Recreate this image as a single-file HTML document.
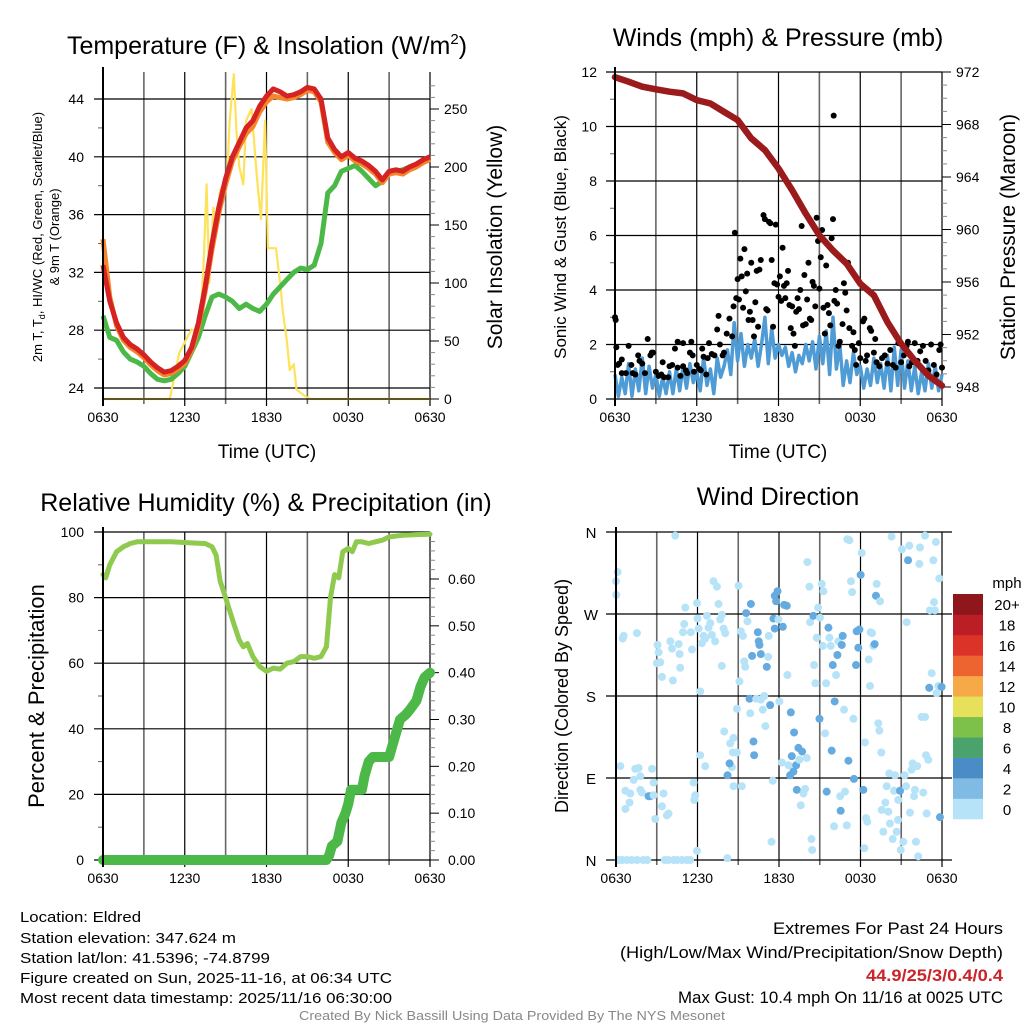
<!DOCTYPE html>
<html><head><meta charset="utf-8"><style>
html,body{margin:0;padding:0;background:#fff}
svg{display:block;font-family:"Liberation Sans",Arial,sans-serif}
</style></head><body>
<svg id="fig" width="1024" height="1024" viewBox="0 0 1024 1024" xmlns="http://www.w3.org/2000/svg">
<rect width="1024" height="1024" fill="#fff"/>
<g id="p1"></g>
<g id="p2"></g>
<g id="p3"></g>
<g id="p4"></g>
<text x="267" y="54" text-anchor="middle" font-size="25">Temperature (F) &amp; Insolation (W/m<tspan dy="-10" font-size="15">2</tspan><tspan dy="10">)</tspan></text>
<text x="778" y="46" text-anchor="middle" font-size="25">Winds (mph) &amp; Pressure (mb)</text>
<text x="266" y="511" text-anchor="middle" font-size="25">Relative Humidity (%) &amp; Precipitation (in)</text>
<text x="778" y="505" text-anchor="middle" font-size="25">Wind Direction</text>
<g font-size="15">
<text x="20" y="922" textLength="121" lengthAdjust="spacingAndGlyphs">Location: Eldred</text>
<text x="20" y="943" textLength="216" lengthAdjust="spacingAndGlyphs">Station elevation: 347.624 m</text>
<text x="20" y="963" textLength="250" lengthAdjust="spacingAndGlyphs">Station lat/lon: 41.5396; -74.8799</text>
<text x="20" y="983" textLength="372" lengthAdjust="spacingAndGlyphs">Figure created on Sun, 2025-11-16, at 06:34 UTC</text>
<text x="20" y="1003" textLength="372" lengthAdjust="spacingAndGlyphs">Most recent data timestamp: 2025/11/16 06:30:00</text>
</g>
<g font-size="17" text-anchor="end">
<text x="1003" y="934" textLength="230" lengthAdjust="spacingAndGlyphs">Extremes For Past 24 Hours</text>
<text x="1003" y="958" textLength="383" lengthAdjust="spacingAndGlyphs">(High/Low/Max Wind/Precipitation/Snow Depth)</text>
<text x="1003" y="981" fill="#c9252b" font-weight="bold" textLength="137" lengthAdjust="spacingAndGlyphs">44.9/25/3/0.4/0.4</text>
<text x="1003" y="1003" textLength="325" lengthAdjust="spacingAndGlyphs">Max Gust: 10.4 mph On 11/16 at 0025 UTC</text>
</g>
<text x="512" y="1020" text-anchor="middle" font-size="13" fill="#888" textLength="426" lengthAdjust="spacingAndGlyphs">Created By Nick Bassill Using Data Provided By The NYS Mesonet</text>
</svg>
<script>
// ---------- DATA ----------
const timeLabels = ["0630","1230","1830","0030","0630"];
const tempTicks = [24,28,32,36,40,44];
const solarTicks = [0,50,100,150,200,250];
const windTicks = [0,2,4,6,8,10,12];
const presTicks = [948,952,956,960,964,968,972];
const rhTicks = [0,20,40,60,80,100];
const precipTicks = [0,0.1,0.2,0.3,0.4,0.5,0.6];
const precipTickLabels = ["0.00","0.10","0.20","0.30","0.40","0.50","0.60"];
const dirTicks = [0,90,180,270,360];
const dirLabels = ["N","E","S","W","N"];
const cbarLabels = ["0","2","4","6","8","10","12","14","16","18","20+"];
const cbarColors = ["#b6e3f8","#7fbbe5","#4a8cc5","#4aa36c","#7dc14b","#e6e05a","#f6a947","#ee6430","#dc3328","#bb1e25","#8f171b"];

// half-hourly temperature series (hours 0..24 from 0630 UTC)
const tempRed = [32.5,30,28.5,27.5,27,26.7,26.3,25.8,25.4,25.1,25.2,25.5,25.9,26.8,28.5,31,34,36.5,38.5,40,41,42,42.5,43.5,44.2,44.7,44.5,44.2,44.3,44.5,44.8,44.7,44,41.3,40.5,40,40.3,39.9,39.7,39.4,39,38.4,39,39.1,39,39.3,39.5,39.8,40];
const tempOrange = [34.3,30.3,28.3,27.3,26.8,26.5,26.1,25.6,25.2,24.9,25.0,25.3,25.7,26.6,28.2,30.7,33.6,36.1,38.1,39.7,40.7,41.6,42.1,43.1,43.8,44.2,44.1,44,44.1,44.3,44.6,44.5,43.8,41,40.3,39.8,40.1,39.7,39.5,39.2,38.8,38.2,38.8,38.9,38.8,39.1,39.3,39.6,39.8];
const tempGreen = [29,27.5,27.3,26.5,26,25.8,25.5,25,24.6,24.5,24.6,25,25.5,26.5,27.5,29,30.3,30.5,30.3,30,29.5,29.8,29.5,29.3,29.8,30.5,31,31.5,32,32.3,32.2,32.5,34,37.5,38,39,39.2,39.4,39,38.5,38,38.3,38.8,39,39.1,39.3,39.5,39.7,39.8];
const solarTime = [0,4.9,5.6,6.5,7.1,7.4,7.6,7.8,8.1,8.3,8.6,9.1,9.3,9.6,9.8,10,10.3,10.5,10.9,11.3,11.6,11.9,12.1,12.7,13,13.2,13.5,13.7,14,14.2,14.9,15.2,24];
const solarVal = [0,0,40,60,55,120,185,100,165,150,180,190,240,280,230,200,185,240,250,190,155,240,130,130,100,75,50,25,30,8,2,0,0];

// pressure (mb), hourly
const presVal = [971.6,971.26,970.88,970.68,970.5,970.37,969.86,969.6,968.97,968.34,966.94,966.05,964.65,963.0,961.2,959.56,958.4,957.4,955.87,954.98,952.94,951.3,950.0,948.87,948.1];
// sonic wind (mph), every 15 min
const sonicVal = [0.9,0.1,0.8,0.2,1.3,0.1,1.1,0.3,1.5,0.2,1.2,0.4,0.9,0.1,0.8,0.2,1.0,0.2,1.1,0.3,1.2,0.4,1.3,0.6,1.0,0.3,1.5,0.5,1.1,0.2,1.5,0.8,1.2,1.8,0.9,2.8,1.4,2.4,1.2,2.0,1.5,2.2,1.2,2.0,3.0,1.3,2.6,1.5,2.0,1.6,1.9,1.2,1.7,1.0,1.6,1.3,2.0,1.4,2.1,1.1,2.3,1.3,2.5,0.9,3.0,1.1,2.0,0.5,1.4,0.6,1.7,0.9,1.2,0.4,1.1,0.5,1.5,0.6,1.3,0.4,1.6,0.3,1.9,0.5,1.8,0.4,1.4,0.3,1.2,0.2,1.0,0.3,1.3,0.4,1.2,0.3,0.9];
// gusts
const gustTime = [0,0.05,0.1,0.2,0.3,0.5,0.5,0.8,1.0,1.2,1.3,1.5,1.7,1.8,2.0,2.2,2.4,2.6,2.7,2.8,3.0,3.2,3.4,3.5,3.6,3.9,4.0,4.2,4.4,4.6,4.6,4.8,5.0,5.0,5.2,5.3,5.5,5.6,5.7,5.8,6.0,6.2,6.3,6.4,6.5,6.7,6.8,6.9,7.1,7.3,7.5,7.6,7.7,7.9,8.0,8.2,8.4,8.6,8.7,8.8,8.9,9.0,9.1,9.2,9.3,9.4,9.5,9.6,9.7,9.8,9.9,10.0,10.1,10.2,10.3,10.4,10.5,10.6,10.7,10.9,11.0,11.1,11.2,11.3,11.4,11.5,11.6,11.7,11.8,11.9,12.0,12.1,12.2,12.3,12.4,12.5,12.6,12.7,12.8,12.9,13.0,13.1,13.2,13.3,13.4,13.5,13.6,13.7,13.8,13.9,14.0,14.1,14.2,14.3,14.4,14.5,14.6,14.7,14.8,14.9,15.0,15.1,15.2,15.3,15.4,15.5,15.6,15.7,15.8,15.9,16.0,16.05,16.1,16.2,16.3,16.4,16.5,16.7,16.8,16.9,17.0,17.1,17.2,17.4,17.5,17.6,17.7,17.9,18.0,18.2,18.3,18.4,18.5,18.7,18.8,19.0,19.1,19.2,19.4,19.6,19.8,20.0,20.2,20.4,20.6,20.8,21.0,21.2,21.4,21.5,21.6,21.8,22.0,22.2,22.4,22.6,22.8,23.0,23.2,23.4,23.6,23.8,23.9,24.0];
const gustVal = [3.0,2.9,1.9,1.25,1.3,1.45,0.95,0.95,1.95,1.25,0.95,0.9,1.6,1.4,1.3,0.95,2.2,1.6,1.7,1.7,1.0,0.85,0.9,1.35,0.8,0.8,1.2,1.25,1.85,1.15,2.1,0.85,2.05,1.2,1.05,0.95,1.7,2.1,1.6,1.0,1.25,1.1,1.05,1.85,1.55,0.9,1.5,2.05,1.65,1.6,2.55,3.05,2.0,1.6,1.7,2.4,2.95,2.3,3.4,6.1,3.7,4.4,3.65,5.15,4.5,3.35,5.5,3.95,4.6,2.9,3.2,5.0,2.9,2.3,3.55,4.7,2.65,4.75,5.1,6.75,6.6,3.3,3.25,6.5,6.45,5.1,2.65,4.25,6.4,4.2,3.75,4.5,3.6,5.55,4.15,3.7,4.25,4.7,3.45,2.6,3.4,2.4,1.95,3.2,3.7,3.3,4.0,6.35,2.7,4.55,2.75,3.65,5.0,2.95,2.9,4.3,4.15,3.4,6.65,5.8,4.05,5.2,6.2,3.35,2.4,4.9,3.45,3.15,2.7,5.9,6.6,10.4,3.6,4.0,3.5,1.95,2.1,2.75,4.25,3.9,3.25,5.0,2.6,1.95,2.45,1.8,1.25,2.05,1.5,2.85,2.95,1.4,1.6,2.6,2.5,1.7,2.2,1.35,1.2,1.5,1.6,1.3,1.8,1.25,1.15,2.05,1.35,1.6,1.95,2.1,1.2,1.35,2.05,1.4,1.75,1.95,1.4,1.05,2.0,1.25,0.9,1.8,2.0,1.15];

// relative humidity
const rhTime = [0,0.2,0.5,1,1.5,2,2.5,3,4,5,6,7,7.5,8,8.3,8.6,9,9.3,9.6,10,10.3,10.6,11,11.5,12,12.5,13,13.5,14,14.5,15,15.5,16,16.4,16.7,17,17.3,17.6,18,18.3,18.6,19,19.5,20,20.5,21,22,23,24];
const rhVal = [87,86,90,94,95.5,96.5,97,97,97,97,96.8,96.6,96.5,95.5,93,85,80,76,72,67,65,66,62,59,57.5,58.5,58.2,60,60.5,62,62,61.5,62,65,80,87,86,94,95,94,97,97,96.5,97,97.5,98.5,99,99.2,99.3];
const precipTime = [0,16.4,16.6,16.8,17.2,17.5,17.8,18.0,18.2,19.0,19.2,19.5,19.8,21.0,21.2,21.5,21.8,22.2,22.5,23.0,23.3,23.6,24];
const precipVal = [0,0,0.01,0.03,0.04,0.08,0.1,0.12,0.15,0.15,0.18,0.21,0.22,0.22,0.24,0.27,0.3,0.31,0.32,0.34,0.37,0.39,0.40];

// wind direction scatter
const wdTime = [0.2,0.45,0.8,1.15,1.55,2.0,2.3,3.6,3.85,4.25,4.5,4.85,5.2,5.45,8.2,
0,0.12,0.02,0.49,0.56,1.54,0.32,0.69,1.05,1.42,1.67,1.3,1.79,1.91,2.4,2.52,2.77,2.65,2.77,2.89,3.5,3.38,3.75,3.87,0.69,1.0,1.79,
3.06,3.14,3.01,3.26,3.38,4.0,4.12,4.19,4.36,4.61,4.68,4.73,4.93,5.02,5.1,5.59,5.51,5.96,6.0,6.08,6.2,6.32,6.45,6.57,6.69,6.81,6.94,7.06,7.18,7.3,7.43,7.55,7.67,7.79,7.92,7.79,8.04,
5.71,5.83,5.76,6.2,6.57,5.96,
7.97,8.41,8.65,8.6,8.9,8.9,8.53,8.36,8.21,8.65,9.26,
9.02,9.09,9.19,9.34,9.44,9.51,9.58,9.68,9.83,9.88,9.93,10.02,10.12,10.17,10.32,10.44,10.51,10.56,10.66,10.66,10.81,10.91,11.0,11.1,11.2,11.25,11.35,11.45,11.54,11.59,11.69,11.69,11.79,11.89,11.96,12.03,12.21,12.28,12.38,12.57,12.62,12.7,12.82,12.87,12.94,13.06,13.11,13.26,13.31,13.43,13.5,13.6,13.7,13.8,13.92,14.04,14.09,14.24,14.29,14.39,14.44,14.53,14.58,14.68,14.78,14.88,14.98,15.02,15.15,15.22,15.27,15.39,15.47,15.51,15.64,15.71,15.81,15.88,15.96,16.05,16.1,16.2,16.3,16.37,16.5,16.54,16.62,16.69,16.79,16.86,16.99,17.03,17.18,17.11,17.3,17.38,17.48,17.52,17.67,17.72,17.84,17.92,18.01,18.09,18.21,18.28,18.33,18.41,18.5,18.6,18.7,18.75,18.85,18.95,19.04,19.14,19.19,19.31,19.39,19.44,19.53,19.56,19.68,19.83,19.93,20.05,20.12,20.17,20.29,20.37,20.47,20.54,20.66,20.76,20.78,20.91,20.96,21.05,21.15,21.25,21.35,21.4,21.5,21.59,21.64,21.76,21.84,21.94,22.01,22.08,22.18,22.25,22.33,22.38,22.5,22.62,22.75,22.82,22.87,22.99,23.11,23.24,22.75,23.36,23.41,23.48,23.55,23.6,23.73,23.8,23.85,23.97,23.06];
const wdDir = [0,0,0,0,0,0,0,0,0,0,0,0,0,0,2,
306,316,291,243,246,249,103,76,73,100,101,88,77,74,70,70,71,100,85,45,73,59,49,51,56,63,92,
236,228,216,217,201,240,232,197,356,237,226,211,250,259,277,231,250,282,265,254,185,238,246,243,268,255,260,247,306,240,300,281,264,269,254,213,249,
85,71,66,115,103,10,
141,128,134,118,118,166,102,106,93,81,81,
301,196,251,246,218,212,271,262,177,161,281,224,130,115,177,250,240,236,226,176,165,180,147,212,223,246,170,20,87,265,290,254,284,295,264,174,107,256,280,279,203,104,93,162,114,97,140,104,77,123,110,60,119,73,78,112,327,300,261,23,11,268,214,194,244,277,155,266,303,235,295,139,194,75,255,244,235,120,214,37,174,203,225,240,70,54,236,246,165,75,38,352,351,109,306,294,155,89,214,251,233,253,313,337,77,13,129,46,42,220,191,250,249,235,237,290,303,150,142,284,118,55,31,63,81,53,95,40,355,23,76,93,31,44,66,76,11,341,20,93,81,261,329,345,52,99,106,70,77,20,103,4,325,343,157,74,157,115,51,110,274,205,356,329,283,274,349,183,191,309,47,190,189];
const wdSpd = [1,1,1,1,1,1,1,1,1,1,1,1,1,1,1,
1,1,1,1,1,1,1,1,1,1,1,1,1,1,3,3,1,1,1,1,1,1,1,1,1,1,1,
1,1,1,1,1,1,1,1,1,1,1,1,1,1,1,1,1,1,1,1,1,1,1,1,1,1,1,1,1,1,1,1,1,1,1,1,1,
1,1,1,1,1,1,
1,1,1,1,1,1,1,3,3,1,1,
1,1,1,1,1,1,3,1,3,1,3,3,3,3,1,3,3,3,3,1,1,1,1,3,1,1,3,1,1,3,3,3,3,3,1,1,1,3,3,3,1,1,3,3,3,3,3,3,3,3,1,1,3,1,1,1,1,1,1,1,1,3,1,1,1,1,3,1,1,1,1,1,1,3,3,1,1,3,3,1,3,1,3,1,1,3,3,3,1,1,1,1,1,3,1,1,1,3,3,3,3,3,3,1,3,1,1,1,1,1,1,1,1,1,3,3,1,1,1,1,1,1,1,1,1,1,1,1,1,1,1,1,1,1,1,3,1,1,1,1,1,1,3,1,1,1,1,1,1,1,1,1,1,1,1,1,1,1,1,1,1,1,1,1,1,1,1,1,1,1];

// ---------- DRAWING ----------
const NS = "http://www.w3.org/2000/svg";
function mk(parent, tag, attrs){ const e=document.createElementNS(NS,tag); for(const k in attrs) e.setAttribute(k,attrs[k]); parent.appendChild(e); return e; }
function lin(d0,d1,r0,r1){ return v => r0 + (v-d0)*(r1-r0)/(d1-d0); }
function pathOf(xs,ys,fx,fy){ let d=""; for(let i=0;i<xs.length;i++){ d+=(i?"L":"M")+fx(xs[i]).toFixed(1)+","+fy(ys[i]).toFixed(1); } return d; }

function frame(g, x0, x1, y0, y1, fx){
  for(let h=0; h<=24; h+=3){
    const x=fx(h), major=(h%6===0);
    const l=mk(g,"line",{x1:x,y1:y0,x2:x,y2:y1+(major?7:5),stroke:major?"#000":"#666","stroke-width":major?1.2:1.6});
    
    
  }
  timeLabels.forEach((s,i)=>{
    const t=mk(g,"text",{x:fx(i*6),y:y1+23,"text-anchor":"middle","font-size":"14"}); t.textContent=s;
    
    
  });
}

// Panel 1
(function(){
  const g=document.getElementById("p1");
  const x0=103,x1=430,y0=72,y1=399;
  const fx=lin(0,24,x0,x1), fy=lin(24,44,388,99), fs=lin(0,250,399,109);
  frame(g,x0,x1,y0,y1,fx);
  for(let v=24; v<=46; v+=2){ const y=fy(v); if(y<y0) continue; const maj=tempTicks.includes(v);
    if(maj){ const l=mk(g,"line",{x1:x0-9,y1:y,x2:x1,y2:y,stroke:"#000","stroke-width":1.2});
        }
    else { const l=mk(g,"line",{x1:x0-5,y1:y,x2:x0,y2:y,stroke:"#666","stroke-width":1});
        } }
  tempTicks.forEach(v=>{ const t=mk(g,"text",{x:84,y:fy(v)+5,"text-anchor":"end","font-size":"14"}); t.textContent=v;
      });
  for(let v=0; v<=270; v+=10){ const y=fs(v); if(y<y0) continue; const maj=solarTicks.includes(v);
    const l=mk(g,"line",{x1:x1,y1:y,x2:x1+(maj?9:5),y2:y,stroke:maj?"#000":"#888","stroke-width":1});
      }
  solarTicks.forEach(v=>{ const t=mk(g,"text",{x:444,y:fs(v)+5,"font-size":"14"}); t.textContent=v;
      });
  const hh=tempRed.map((_,i)=>i*0.5);
  const ys=mk(g,"path",{d:pathOf(solarTime,solarVal,fx,fs),fill:"none",stroke:"#fde25a","stroke-width":2.2,"stroke-linejoin":"round"});
   
  const gr=mk(g,"path",{d:pathOf(hh,tempGreen,fx,fy),fill:"none",stroke:"#4cb848","stroke-width":5,"stroke-linejoin":"round"});
   
  const or=mk(g,"path",{d:pathOf(hh,tempOrange,fx,fy),fill:"none",stroke:"#f5842b","stroke-width":5,"stroke-linejoin":"round"});
   
  const rd=mk(g,"path",{d:pathOf(hh,tempRed,fx,fy),fill:"none",stroke:"#d52222","stroke-width":5,"stroke-linejoin":"round"});
   
  const ax=mk(g,"line",{x1:x0,y1:y0-5,x2:x0,y2:y1+7,stroke:"#000","stroke-width":2});
   
  const ax2=mk(g,"line",{x1:x0,y1:y1,x2:x1,y2:y1,stroke:"#000","stroke-width":1.2});
   
  const t1=mk(g,"text",{x:0,y:0,"text-anchor":"middle","font-size":"13",transform:"translate(42,237) rotate(-90)"}); t1.innerHTML='2m T, T<tspan dy="3" font-size="9">d</tspan><tspan dy="-3">, HI/WC (Red, Green, Scarlet/Blue)</tspan>';
   
  const t2=mk(g,"text",{x:0,y:0,"text-anchor":"middle","font-size":"13",transform:"translate(59,237) rotate(-90)"}); t2.textContent="& 9m T (Orange)";
   
  const t3=mk(g,"text",{x:0,y:0,"text-anchor":"middle","font-size":"21",transform:"translate(502,237) rotate(-90)"}); t3.textContent="Solar Insolation (Yellow)";
   
  const t4=mk(g,"text",{x:267,y:458,"text-anchor":"middle","font-size":"19"}); t4.textContent="Time (UTC)";
   
})();

// Panel 2
(function(){
  const g=document.getElementById("p2");
  const x0=615,x1=942,y0=72,y1=399;
  const fx=lin(0,24,x0,x1), fy=lin(0,12,399,72), fp=lin(948,972,387,72);
  frame(g,x0,x1,y0,y1,fx);
  for(let v=0; v<=12; v+=1){ const y=fy(v); const maj=windTicks.includes(v);
    if(maj){ const l=mk(g,"line",{x1:x0-9,y1:y,x2:x1,y2:y,stroke:"#000","stroke-width":1.2});
        }
    else { const l=mk(g,"line",{x1:x0-5,y1:y,x2:x0,y2:y,stroke:"#666","stroke-width":1});
        } }
  windTicks.forEach(v=>{ const t=mk(g,"text",{x:597,y:fy(v)+5,"text-anchor":"end","font-size":"14"}); t.textContent=v;
      });
  for(let v=947; v<=972; v+=1){ const y=fp(v); if(y>y1) continue; const maj=presTicks.includes(v);
    const l=mk(g,"line",{x1:x1,y1:y,x2:x1+(maj?9:5),y2:y,stroke:maj?"#000":"#888","stroke-width":1});
      }
  presTicks.forEach(v=>{ const t=mk(g,"text",{x:956,y:fp(v)+5,"font-size":"14"}); t.textContent=v;
      });
  const st=sonicVal.map((_,i)=>i*0.25);
  const bl=mk(g,"path",{d:pathOf(st,sonicVal,fx,fy),fill:"none",stroke:"#4f9bd6","stroke-width":3.5,"stroke-linejoin":"round"});
   
  gustTime.forEach((t,i)=>{ const c=mk(g,"circle",{cx:fx(t),cy:fy(gustVal[i]),r:3,fill:"#000"});
      });
  const pt=presVal.map((_,i)=>i);
  const pr=mk(g,"path",{d:pathOf(pt,presVal,fx,fp),fill:"none",stroke:"#9b1b1d","stroke-width":6.5,"stroke-linejoin":"round","stroke-linecap":"round"});
   
  const ax=mk(g,"line",{x1:x0,y1:y0-5,x2:x0,y2:y1+7,stroke:"#000","stroke-width":2});
   
  const t1=mk(g,"text",{x:0,y:0,"text-anchor":"middle","font-size":"17",transform:"translate(566,237) rotate(-90)"}); t1.textContent="Sonic Wind & Gust (Blue, Black)";
   
  const t2=mk(g,"text",{x:0,y:0,"text-anchor":"middle","font-size":"21",transform:"translate(1015,237) rotate(-90)"}); t2.textContent="Station Pressure (Maroon)";
   
  const t4=mk(g,"text",{x:778,y:458,"text-anchor":"middle","font-size":"19"}); t4.textContent="Time (UTC)";
   
})();

// Panel 3
(function(){
  const g=document.getElementById("p3");
  const x0=103,x1=430,y0=532,y1=860;
  const fx=lin(0,24,x0,x1), fy=lin(0,100,860,532), fp=lin(0,0.6,860,579);
  frame(g,x0,x1,y0,y1,fx);
  for(let v=0; v<=100; v+=10){ const y=fy(v); const maj=rhTicks.includes(v);
    if(maj){ const l=mk(g,"line",{x1:x0-9,y1:y,x2:x1,y2:y,stroke:"#000","stroke-width":1.2});
        }
    else { const l=mk(g,"line",{x1:x0-5,y1:y,x2:x0,y2:y,stroke:"#666","stroke-width":1});
        } }
  rhTicks.forEach(v=>{ const t=mk(g,"text",{x:84,y:fy(v)+5,"text-anchor":"end","font-size":"14"}); t.textContent=v;
      });
  for(let k=0; k<=34; k++){ const v=k*0.02; const y=fp(v); if(y<y0+8) continue; const maj=(k%5===0);
    const l=mk(g,"line",{x1:x1,y1:y,x2:x1+(maj?9:5),y2:y,stroke:maj?"#000":"#888","stroke-width":1});
      }
  precipTicks.forEach((v,i)=>{ const t=mk(g,"text",{x:448,y:fp(v)+5,"font-size":"14"}); t.textContent=precipTickLabels[i];
      });
  const rh=mk(g,"path",{d:pathOf(rhTime,rhVal,fx,fy),fill:"none",stroke:"#8fca4f","stroke-width":5,"stroke-linejoin":"round","stroke-linecap":"round"});
   
  const pc=mk(g,"path",{d:pathOf(precipTime,precipVal,fx,fp),fill:"none",stroke:"#4cb848","stroke-width":10,"stroke-linejoin":"round","stroke-linecap":"round"});
   
  const ax=mk(g,"line",{x1:x0,y1:y0-5,x2:x0,y2:y1+7,stroke:"#000","stroke-width":2});
   
  const t1=mk(g,"text",{x:0,y:0,"text-anchor":"middle","font-size":"22",transform:"translate(44,696) rotate(-90)"}); t1.textContent="Percent & Precipitation";
   
})();

// Panel 4
(function(){
  const g=document.getElementById("p4");
  const x0=616,x1=942,y0=532,y1=860;
  const fx=lin(0,24,x0,x1), fy=lin(0,360,860,532);
  frame(g,x0,x1,y0,y1,fx);
  dirTicks.forEach((v,i)=>{ const y=fy(v);
    const l=mk(g,"line",{x1:x0-10,y1:y,x2:x1+10,y2:y,stroke:"#000","stroke-width":1.2});
     
    const t=mk(g,"text",{x:591,y:y+6,"text-anchor":"middle","font-size":"15"}); t.textContent=dirLabels[i];
      });
  wdTime.forEach((t,i)=>{ const s=wdSpd[i]; const c=mk(g,"circle",{cx:fx(t),cy:fy(wdDir[i]),r:4,fill:s<2?"#b6e3f8":"#66abe0"});
      });
  const ax=mk(g,"line",{x1:x0,y1:y0-5,x2:x0,y2:y1+7,stroke:"#000","stroke-width":2});
   
  const cb=mk(g,"g",{});
   
  const bh=(819-594)/cbarColors.length;
  cbarColors.forEach((c,i)=>{ const y=819-(i+1)*bh;
    const r=mk(cb,"rect",{x:953,y:y,width:30,height:bh+0.3,fill:c});
     
    const t=mk(cb,"text",{x:1007,y:y+bh/2+6,"text-anchor":"middle","font-size":"15"}); t.textContent=cbarLabels[i];
      });
  const u=mk(g,"text",{x:1007,y:588,"text-anchor":"middle","font-size":"15"}); u.textContent="mph";
   
  const t1=mk(g,"text",{x:0,y:0,"text-anchor":"middle","font-size":"18",transform:"translate(568,696) rotate(-90)"}); t1.textContent="Direction (Colored By Speed)";
   
})();
</script>
</body></html>
